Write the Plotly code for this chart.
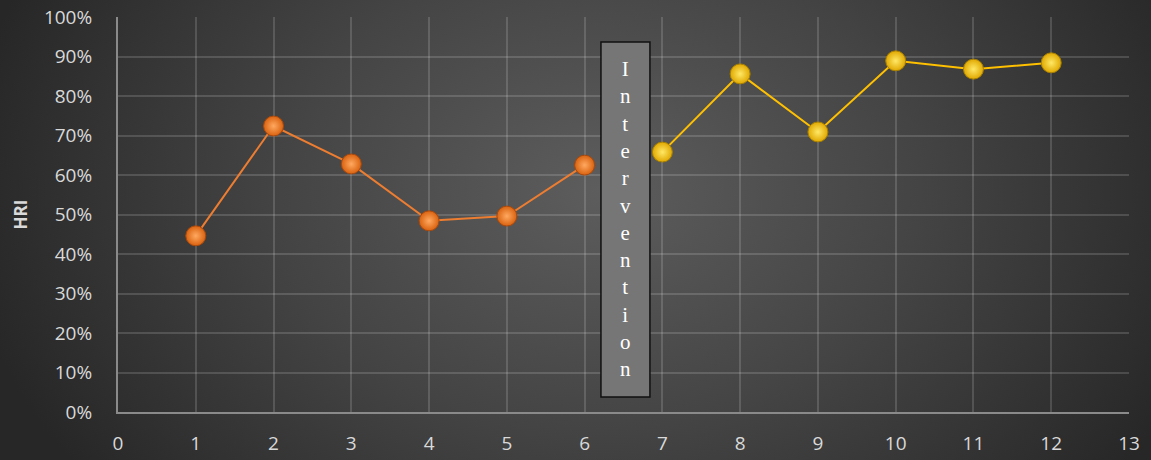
import base64
import plotly.graph_objects as go

# HRI per session, before and after the intervention
baseline_x = [1, 2, 3, 4, 5, 6]
baseline_hri = [0.446, 0.724, 0.628, 0.484, 0.496, 0.625]
post_x = [7, 8, 9, 10, 11, 12]
post_hri = [0.658, 0.856, 0.709, 0.889, 0.868, 0.884]

y_ticks = [i / 10 for i in range(11)]
y_labels = [f"{i * 10}%" for i in range(11)]
x_ticks = list(range(14))

label_word = "Intervention"

W, H = 1151, 460
ML, MR, MT, MB = 118, 22, 17, 48
PW, PH = W - ML - MR, H - MT - MB

# Dark radial backdrop
svg = f"""<svg xmlns='http://www.w3.org/2000/svg' width='{W}' height='{H}' viewBox='0 0 {W} {H}' preserveAspectRatio='none'>
<defs><radialGradient id='g' gradientUnits='userSpaceOnUse' cx='600' cy='190' r='640' gradientTransform='translate(600 190) scale(1 0.75) translate(-600 -190)'>
<stop offset='0' stop-color='#5d5d5d'/><stop offset='0.5' stop-color='#444444'/><stop offset='1' stop-color='#272727'/></radialGradient></defs>
<rect width='{W}' height='{H}' fill='url(#g)'/></svg>"""
bg_uri = "data:image/svg+xml;base64," + base64.b64encode(svg.encode()).decode()

fig = go.Figure()

fig.add_trace(go.Scatter(
    x=baseline_x, y=baseline_hri, mode="lines+markers",
    line=dict(color="#ED7D31", width=2),
    marker=dict(size=20, color="#D9620F",
                gradient=dict(type="radial", color="#FFA960"),
                line=dict(color="#A9480C", width=1)),
    showlegend=False, hoverinfo="x+y",
))
fig.add_trace(go.Scatter(
    x=post_x, y=post_hri, mode="lines+markers",
    line=dict(color="#FFC000", width=2),
    marker=dict(size=20, color="#E0A800",
                gradient=dict(type="radial", color="#FFE866"),
                line=dict(color="#A88000", width=1)),
    showlegend=False, hoverinfo="x+y",
))

# Intervention marker box
fig.add_shape(type="rect", xref="x", yref="y", x0=6.21, x1=6.84, y0=0.038, y1=0.937,
              fillcolor="#767676", line=dict(color="#111111", width=1.5), layer="above")
fig.add_annotation(x=6.525, y=0.4875, xref="x", yref="y",
                   text="<br>".join(label_word), showarrow=False,
                   font=dict(family="Liberation Serif, Times New Roman, serif", size=21, color="#ffffff"),
                   align="center")

fig.add_annotation(x=(20 - ML) / PW, y=0.5, xref="paper", yref="paper",
                   xanchor="center", yanchor="middle",
                   text="<b>HRI</b>", textangle=-90, showarrow=False,
                   font=dict(family="Open Sans, Liberation Sans, sans-serif", size=17, color="#d9d9d9"))

grid = "rgba(255,255,255,0.15)"
fig.update_layout(
    width=W, height=H,
    margin=dict(l=ML, r=MR, t=MT, b=MB, autoexpand=False),
    paper_bgcolor="#2a2a2a", plot_bgcolor="rgba(0,0,0,0)",
    images=[dict(source=bg_uri, xref="paper", yref="paper",
                 x=-ML / PW, y=1 + MT / PH, sizex=W / PW, sizey=H / PH,
                 sizing="stretch", layer="below", xanchor="left", yanchor="top")],
    font=dict(family="Open Sans, Liberation Sans, sans-serif", size=19, color="#d9d9d9"),
    xaxis=dict(range=[0, 13], tickvals=x_ticks, showgrid=True,
               gridcolor=grid, gridwidth=1.5,
               showline=True, linecolor="#8a8a8a", linewidth=2,
               ticks="outside", ticklen=13, tickcolor="rgba(0,0,0,0)",
               zeroline=False, fixedrange=True, automargin=False),
    yaxis=dict(range=[0, 1], tickvals=y_ticks, ticktext=y_labels, showgrid=True,
               gridcolor=grid, gridwidth=1.5,
               showline=True, linecolor="#8a8a8a", linewidth=2,
               ticks="outside", ticklen=20, tickcolor="rgba(0,0,0,0)",
               zeroline=False, fixedrange=True, automargin=False),
)

fig.write_html("out.html")
